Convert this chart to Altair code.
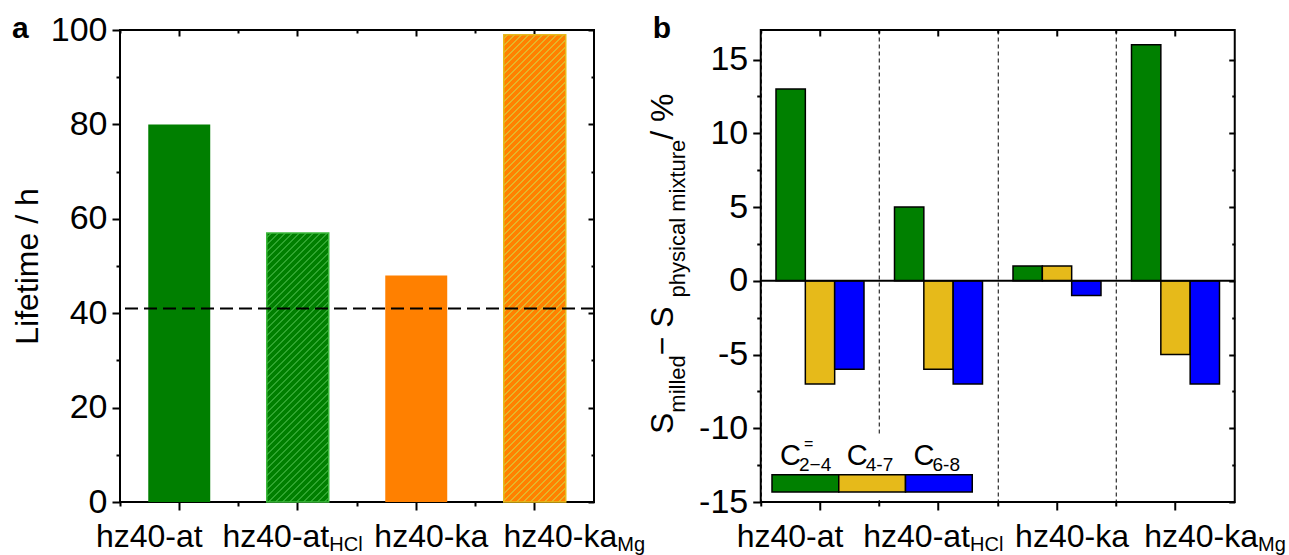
import altair as alt
import pandas as pd

# ---------------- data ----------------
samples = ["hz40-at", "hz40-at_HCl", "hz40-ka", "hz40-ka_Mg"]
label_main = ["hz40-at", "hz40-at", "hz40-ka", "hz40-ka"]
label_sub = ["", "HCl", "", "Mg"]

lifetime_h = [80, 57, 48, 99]
lifetime_fill = ["#007F00", "#007F00", "#FF8000", "#FF8000"]
lifetime_stripe = ["", "#2FA52F", "", "#E3B52A"]
lifetime_edge = ["", "#3CB93C", "", "#E6BA1A"]
reference_lifetime_h = 41

groups = ["C2-4=", "C4-7", "C6-8"]
group_main = ["C", "C", "C"]
group_sub = ["2\u22124", "4-7", "6-8"]
group_sup = ["=", "", ""]
group_colors = ["#008000", "#E6BA1A", "#0000FF"]
delta_hz40_at = [13, -7, -6]
delta_hz40_at_hcl = [5, -6, -7]
delta_hz40_ka = [1, 1, -1]
delta_hz40_ka_mg = [16, -5, -7]

ticks_a = [0, 20, 40, 60, 80, 100]
minor_a = [10, 30, 50, 70, 90]
ticks_b = [-15, -10, -5, 0, 5, 10, 15]
minor_b = [-12.5, -7.5, -2.5, 2.5, 7.5, 12.5]
domain_a = [0, 100]
domain_b = [-15, 17]

title_a = "Lifetime / h"
title_b = [("S", "main"), ("milled", "sub"), (" \u2212 S", "main"),
           ("physical mixture", "sub"), (" / %", "main")]

# ---------------- style / layout ----------------
FONT = "Liberation Sans"
W, H = 474, 472
BAR_BAND = 0.523
LABEL_DX = [-30, 31.5, 15, 82.5]      # x-label anchor offsets from tick
MAIN_Y, SUB_Y = 517, 521
ARIAL = {"S": 667, "m": 833, "i": 222, "l": 222, "e": 556, "d": 556, " ": 278,
         "\u2212": 584, "p": 556, "h": 556, "y": 500, "s": 500, "c": 500, "a": 556,
         "x": 500, "t": 278, "u": 556, "r": 333, "/": 278, "%": 889}


def text_width(t, size):
    return sum(ARIAL.get(ch, 556) for ch in t) / 1000.0 * size


df_a = pd.DataFrame({"sample": samples, "lifetime": lifetime_h, "fill": lifetime_fill})
rows = []
for s, vals in zip(samples, [delta_hz40_at, delta_hz40_at_hcl, delta_hz40_ka, delta_hz40_ka_mg]):
    for g, v, c in zip(groups, vals, group_colors):
        rows.append({"sample": s, "group": g, "delta": v, "fill": c})
df_b = pd.DataFrame(rows)
one = pd.DataFrame({"k": [0]})

xs = alt.Scale(domain=samples, paddingInner=0, paddingOuter=0)
ys_a = alt.Scale(domain=domain_a, nice=False, zero=False)
ys_b = alt.Scale(domain=domain_b, nice=False, zero=False)

AX = dict(domain=False, grid=False, tickColor="black", tickWidth=2, labelFont=FONT,
          labelFontSize=34, labelColor="black", titleFont=FONT, titleFontSize=32,
          titleColor="black", titleFontWeight="normal")


def axis_layers(data, yfield, yscale, ticks, minor, left_extra, ytitle, sep):
    specs = [
        (dict(orient="bottom", bandPosition=0.5, labels=False, tickSize=8),
         dict(orient="left", values=ticks, tickSize=8, labelPadding=5, **left_extra), ytitle),
        (dict(orient="bottom", bandPosition=0, labels=False, tickSize=4, **sep),
         dict(orient="left", values=minor, tickSize=4, labels=False), None),
        (dict(orient="top", bandPosition=0.5, labels=False, tickSize=6, offset=-6),
         dict(orient="right", values=ticks, tickSize=6, labels=False, offset=-6), None),
        (dict(orient="top", bandPosition=0, labels=False, tickSize=3, offset=-3),
         dict(orient="right", values=minor, tickSize=3, labels=False, offset=-3), None),
    ]
    out = []
    for xk, yk, t in specs:
        xa = dict(AX); xa.update(xk)
        ya = dict(AX); ya.update(yk)
        out.append(
            alt.Chart(data).mark_point(opacity=0).encode(
                x=alt.X("sample:N", sort=samples, scale=xs, axis=alt.Axis(**xa), title=None),
                y=alt.Y(f"{yfield}:Q", scale=yscale, axis=alt.Axis(**ya), title=t),
            )
        )
    return out


def xlabel_layers():
    out = []
    for s, m, sub, dx in zip(samples, label_main, label_sub, LABEL_DX):
        out.append(
            alt.Chart(one).mark_text(text=m, align="right" if sub else "center",
                                     baseline="alphabetic", dx=dx, font=FONT,
                                     fontSize=32, color="black").encode(
                x=alt.X(datum=s, type="nominal", scale=xs, axis=None),
                y=alt.value(MAIN_Y))
        )
        if sub:
            out.append(
                alt.Chart(one).mark_text(text=sub, align="left", baseline="alphabetic",
                                         dx=dx, font=FONT, fontSize=20, color="black").encode(
                    x=alt.X(datum=s, type="nominal", scale=xs, axis=None),
                    y=alt.value(SUB_Y))
            )
    return out


def letter(t):
    return alt.Chart(one).mark_text(text=t, align="left", baseline="alphabetic", font=FONT,
                                    fontSize=30, fontWeight="bold", color="black").encode(
        x=alt.value(-108), y=alt.value(8))


def hatch(base, stripe, w, h, period=7.0, lw=2.0):
    S = w + h
    stops = [alt.GradientStop(color=base, offset=0)]
    s = period / 2
    while s + lw < S:
        a, b = s / S, (s + lw) / S
        stops += [alt.GradientStop(color=base, offset=a), alt.GradientStop(color=stripe, offset=a),
                  alt.GradientStop(color=stripe, offset=b), alt.GradientStop(color=base, offset=b)]
        s += period
    stops.append(alt.GradientStop(color=base, offset=1))
    c = S / (w * w + h * h)
    return alt.LinearGradient(gradient="linear", stops=stops, x1=0, y1=0, x2=w * c, y2=h * c)


# ---------------- panel a ----------------
layers_a = axis_layers(df_a, "lifetime", ys_a, ticks_a, minor_a,
                       dict(titleX=-83, titleY=H / 2, titleAngle=270, titleAlign="center",
                            titleBaseline="alphabetic"), title_a, {})
solid = [s for s, st in zip(samples, lifetime_stripe) if not st]
layers_a.append(
    alt.Chart(df_a).transform_filter(alt.FieldOneOfPredicate(field="sample", oneOf=solid))
    .mark_bar(width=alt.RelativeBandSize(band=BAR_BAND)).encode(
        x=alt.X("sample:N", sort=samples, scale=xs, axis=None, title=None),
        y=alt.Y("lifetime:Q", scale=ys_a, axis=None, title=None),
        fill=alt.Fill("fill:N", scale=None))
)
step = W / len(samples)
for s, v, f, st, ed in zip(samples, lifetime_h, lifetime_fill, lifetime_stripe, lifetime_edge):
    if not st:
        continue
    grad = hatch(f, st, BAR_BAND * step, v * H / (domain_a[1] - domain_a[0]))
    layers_a.append(
        alt.Chart(df_a).transform_filter(alt.datum.sample == s)
        .mark_bar(width=alt.RelativeBandSize(band=BAR_BAND), fill=grad, stroke=ed,
                  strokeWidth=1.5).encode(
            x=alt.X("sample:N", sort=samples, scale=xs, axis=None, title=None),
            y=alt.Y("lifetime:Q", scale=ys_a, axis=None, title=None))
    )
layers_a.append(
    alt.Chart(one).mark_rule(color="black", strokeWidth=2, strokeDash=[13, 6]).encode(
        y=alt.Y(datum=reference_lifetime_h, type="quantitative", scale=ys_a, axis=None))
)
layers_a += xlabel_layers()
layers_a.append(letter("a"))
panel_a = alt.layer(*layers_a).resolve_axis(x="independent", y="independent").properties(
    width=W, height=H)

# ---------------- panel b ----------------
layers_b = axis_layers(df_b, "delta", ys_b, ticks_b, minor_b,
                       dict(labelExpr="'' + datum.value"), None,
                       dict(grid=True, gridColor="black", gridWidth=1, gridDash=[4, 3]))
layers_b.append(
    alt.Chart(df_b).mark_bar(stroke="black", strokeWidth=1.5).encode(
        x=alt.X("sample:N", sort=samples, scale=xs, axis=None, title=None),
        xOffset=alt.XOffset("group:N", sort=groups,
                            scale=alt.Scale(paddingOuter=0.52, paddingInner=0)),
        y=alt.Y("delta:Q", scale=ys_b, axis=None, title=None),
        fill=alt.Fill("fill:N", scale=None))
)
layers_b.append(
    alt.Chart(one).mark_rule(color="black", strokeWidth=2).encode(
        y=alt.Y(datum=0, type="quantitative", scale=ys_b, axis=None))
)
# legend (drawn in the plot's lower-left corner)
LEG_X0, LEG_SW, LEG_Y0, LEG_Y1 = 11.25, 66.75, 444.7, 462
layers_b.append(
    alt.Chart(one).mark_rect(fill="white").encode(
        x=alt.value(2), x2=alt.value(216), y=alt.value(404), y2=alt.value(470))
)
for i, (m, sb, sp, c) in enumerate(zip(group_main, group_sub, group_sup, group_colors)):
    x0 = LEG_X0 + i * LEG_SW
    layers_b.append(
        alt.Chart(one).mark_rect(fill=c, stroke="black", strokeWidth=1.5).encode(
            x=alt.value(x0), x2=alt.value(x0 + LEG_SW), y=alt.value(LEG_Y0), y2=alt.value(LEG_Y1))
    )
    layers_b.append(
        alt.Chart(one).mark_text(text=m, align="left", baseline="alphabetic", font=FONT,
                                 fontSize=29, color="black").encode(
            x=alt.value(x0 + 8), y=alt.value(435))
    )
    layers_b.append(
        alt.Chart(one).mark_text(text=sb, align="left", baseline="alphabetic", font=FONT,
                                 fontSize=19, color="black").encode(
            x=alt.value(x0 + 27), y=alt.value(441))
    )
    if sp:
        layers_b.append(
            alt.Chart(one).mark_text(text=sp, align="left", baseline="alphabetic", font=FONT,
                                     fontSize=16, color="black").encode(
                x=alt.value(x0 + 32), y=alt.value(419))
        )
# rotated rich-text y title
ypos = 404.0
for seg, kind in title_b:
    size = 32 if kind == "main" else 22
    xb = -87.75 if kind == "main" else -76.0
    layers_b.append(
        alt.Chart(one).mark_text(text=seg, align="left", baseline="alphabetic", angle=270,
                                 font=FONT, fontSize=size, color="black").encode(
            x=alt.value(xb), y=alt.value(ypos))
    )
    ypos -= text_width(seg, size)
layers_b += xlabel_layers()
layers_b.append(letter("b"))
panel_b = alt.layer(*layers_b).resolve_axis(x="independent", y="independent").properties(
    width=W, height=H)

chart = alt.hconcat(panel_a, panel_b, spacing=166.75, bounds="flush").properties(
    padding={"left": 10, "top": 12, "right": 0, "bottom": 0}
).configure(background="white").configure_view(stroke="black", strokeWidth=2)

chart.save("out.html", embed_options={"renderer": "svg", "actions": False})
